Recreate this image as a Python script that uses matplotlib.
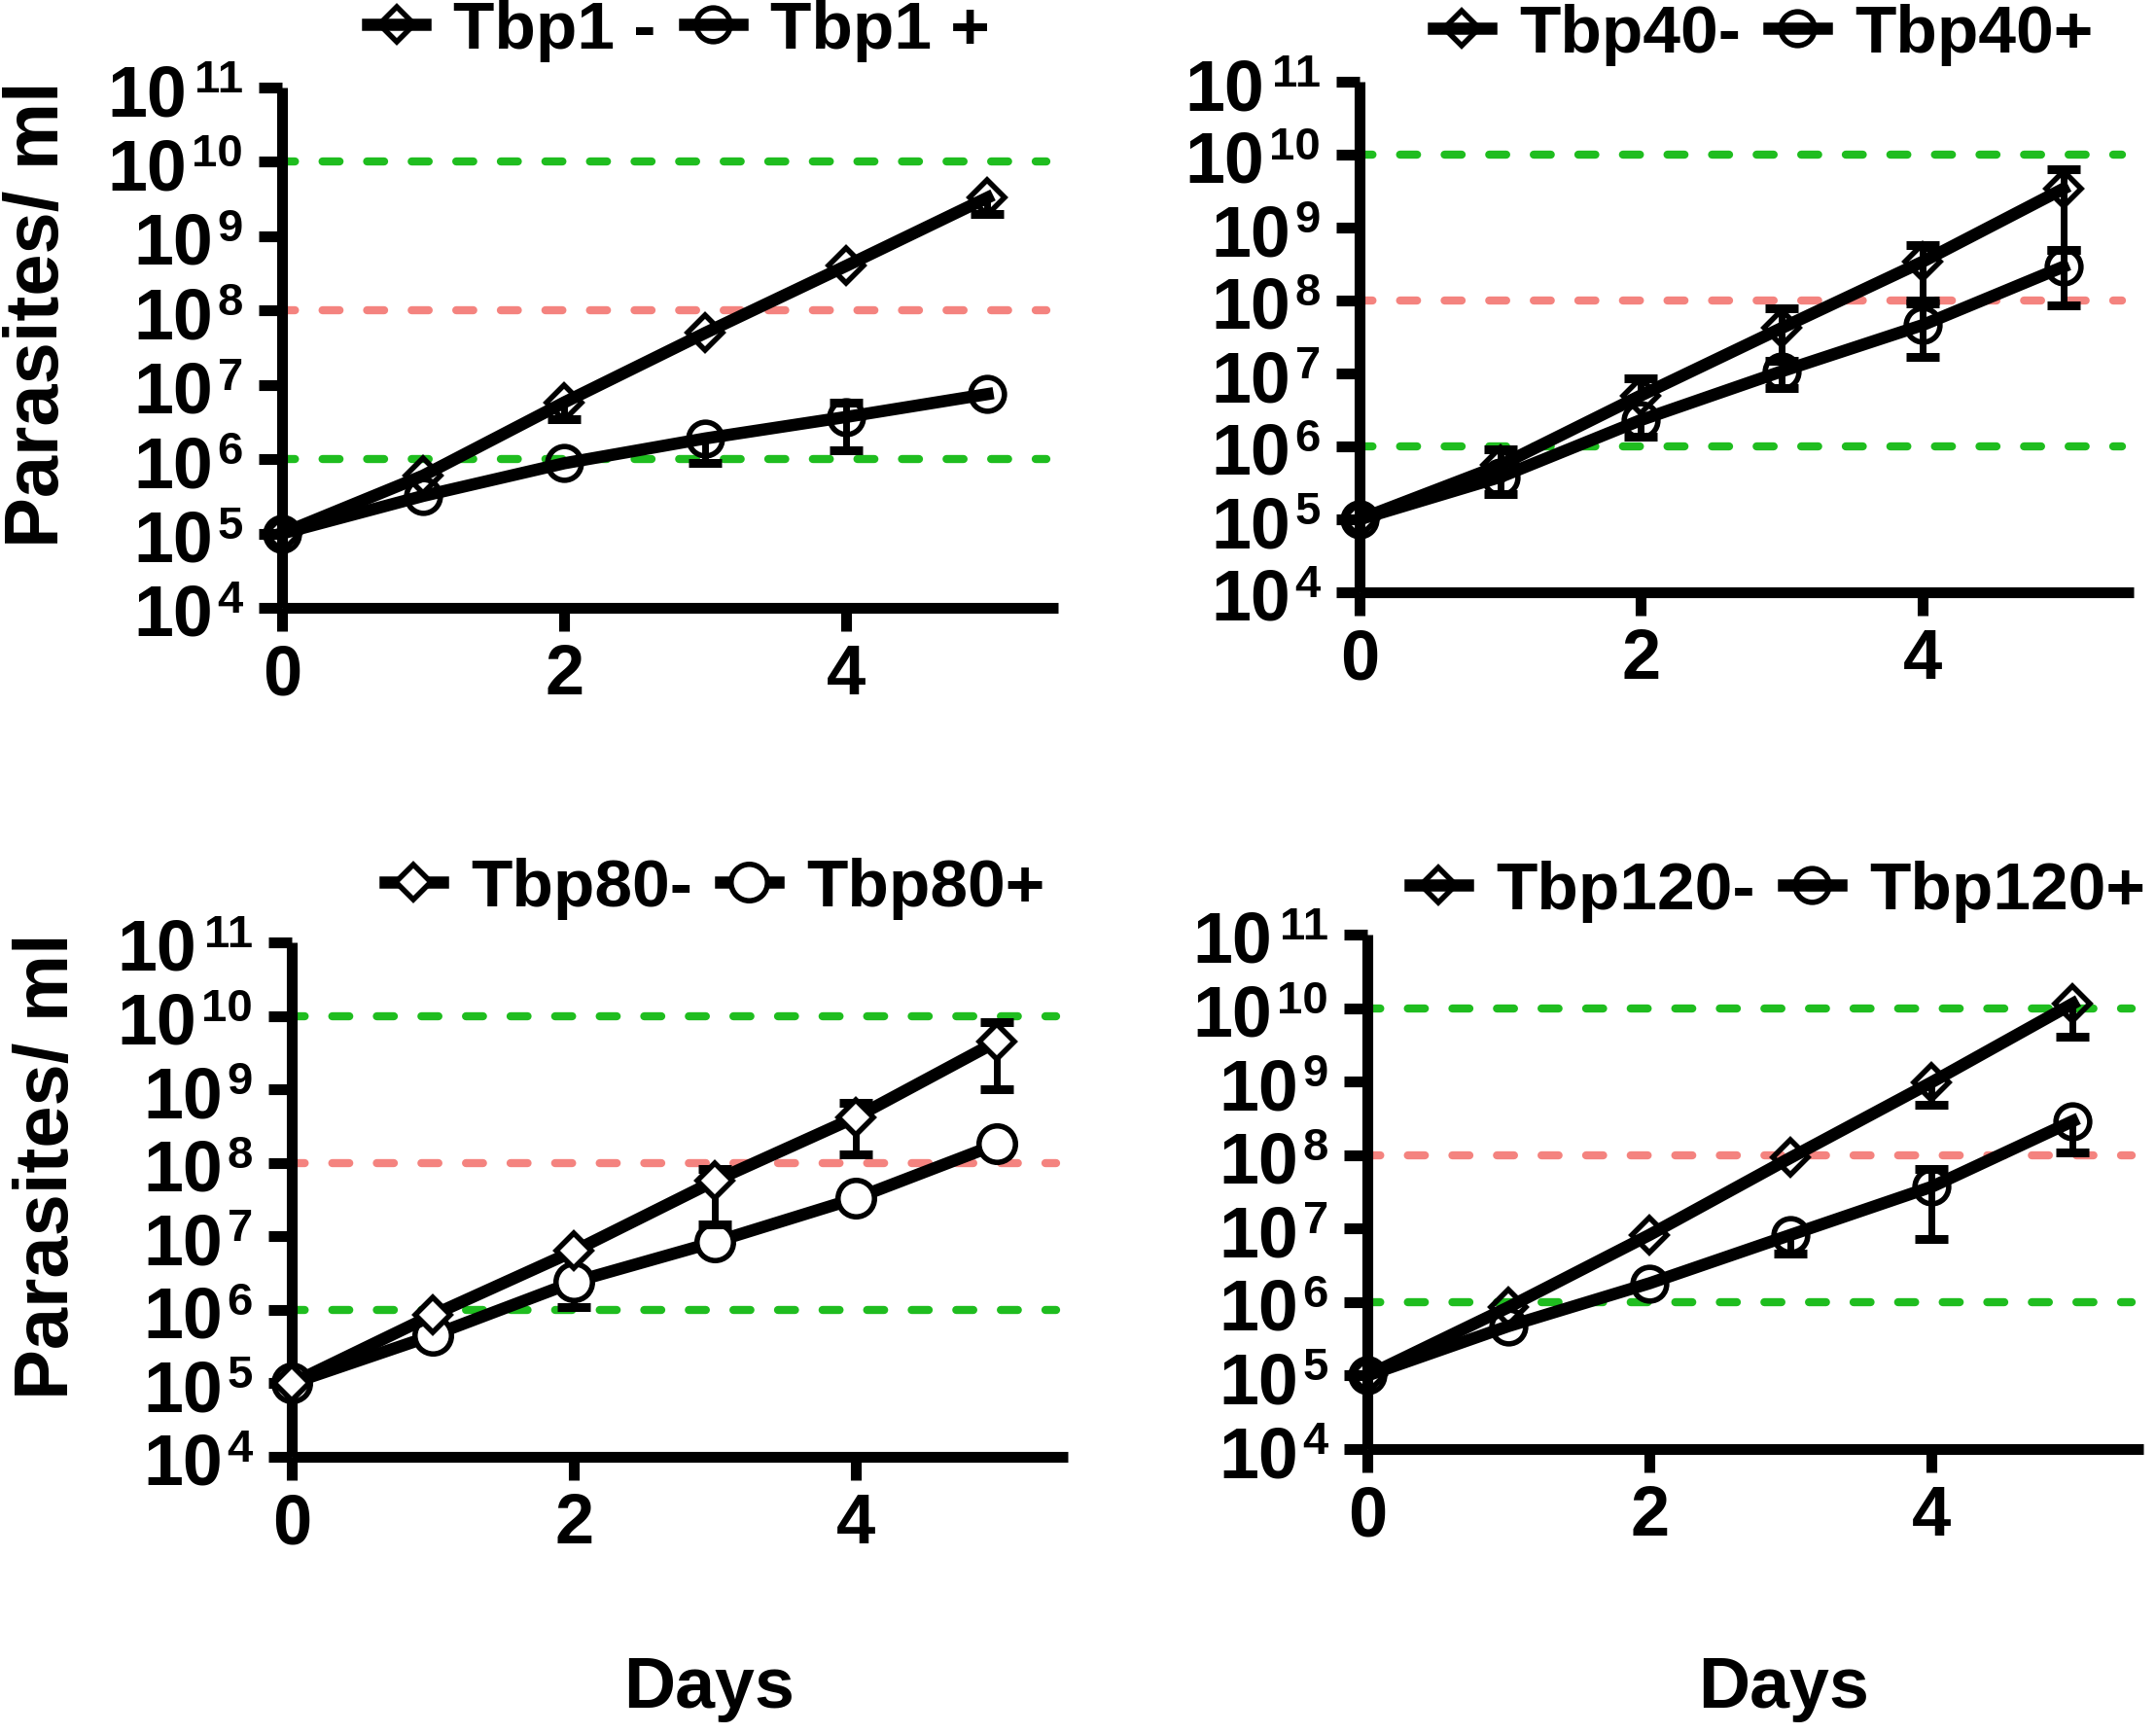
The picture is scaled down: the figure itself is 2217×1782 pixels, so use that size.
import numpy as np
import matplotlib
matplotlib.use("Agg")
import matplotlib.pyplot as plt
from matplotlib.ticker import FixedLocator, NullLocator
from matplotlib.transforms import ScaledTranslation

plt.rcParams['font.family'] = ['Liberation Sans', 'DejaVu Sans']
plt.rcParams['font.weight'] = 'bold'

nan = np.nan
days = [0, 1, 2, 3, 4, 5]

# ---- Panel A: Tbp1 ----
tbp1_minus = [1e5, 6.0e5, 5.8e6, 5.0e7, 4.0e8, 3.3e9]
tbp1_minus_low = [nan, nan, 3.5e6, nan, nan, 2.0e9]
tbp1_minus_high = [nan, nan, nan, nan, nan, nan]
tbp1_plus = [1e5, 3.2e5, 8.8e5, 1.9e6, 3.7e6, 7.5e6]
tbp1_plus_low = [nan, nan, nan, 9.0e5, 1.3e6, nan]
tbp1_plus_high = [nan, nan, nan, nan, 5.8e6, nan]

# ---- Panel B: Tbp40 ----
tbp40_minus = [1e5, 5.5e5, 5.0e6, 4.2e7, 3.4e8, 3.4e9]
tbp40_minus_low = [nan, nan, nan, 1.5e7, 1.0e8, 5.0e8]
tbp40_minus_high = [nan, 9.0e5, 8.5e6, 7.8e7, 5.8e8, 6.3e9]
tbp40_plus = [1e5, 3.8e5, 2.3e6, 1.07e7, 4.6e7, 2.9e8]
tbp40_plus_low = [nan, 2.2e5, 1.35e6, 6.3e6, 1.7e7, 8.5e7]
tbp40_plus_high = [nan, nan, nan, nan, 9.0e7, 5.0e8]

# ---- Panel C: Tbp80 ----
tbp80_minus = [1e5, 8.5e5, 6.3e6, 5.7e7, 4.2e8, 4.5e9]
tbp80_minus_low = [nan, nan, nan, 1.45e7, 1.3e8, 1.0e9]
tbp80_minus_high = [nan, nan, nan, 8.2e7, 6.5e8, 8.1e9]
tbp80_plus = [1e5, 4.5e5, 2.4e6, 8.4e6, 3.3e7, 1.8e8]
tbp80_plus_low = [nan, nan, 1.1e6, nan, nan, nan]
tbp80_plus_high = [nan, nan, nan, nan, nan, nan]

# ---- Panel D: Tbp120 ----
tbp120_minus = [1e5, 8.5e5, 8.2e6, 9.2e7, 9.8e8, 1.15e10]
tbp120_minus_low = [nan, nan, nan, nan, 4.8e8, 4.1e9]
tbp120_minus_high = [nan, nan, nan, nan, nan, nan]
tbp120_plus = [1e5, 4.7e5, 1.8e6, 8.2e6, 3.7e7, 2.9e8]
tbp120_plus_low = [nan, nan, nan, 4.5e6, 7.2e6, 1.1e8]
tbp120_plus_high = [nan, nan, nan, nan, 6.5e7, nan]

thresholds = [1e6, 1e8, 1e10]
threshold_colors = ['#1fbd1f', '#f4837f', '#1fbd1f']

ytick_exps = [4, 5, 6, 7, 8, 9, 10, 11]
xticks = [0, 2, 4]

panels = [
    dict(rect=[290, 91, 1088, 626], labels=['Tbp1 -', 'Tbp1 +'],
         minus=(tbp1_minus, tbp1_minus_low, tbp1_minus_high),
         plus=(tbp1_plus, tbp1_plus_low, tbp1_plus_high),
         fill='none', leg=(698, 32), ylabel=(40, 323), xlabel=None),
    dict(rect=[1398, 85, 2194, 610], labels=['Tbp40-', 'Tbp40+'],
         minus=(tbp40_minus, tbp40_minus_low, tbp40_minus_high),
         plus=(tbp40_plus, tbp40_plus_low, tbp40_plus_high),
         fill='none', leg=(1813, 36), ylabel=None, xlabel=None),
    dict(rect=[300, 970, 1098, 1499], labels=['Tbp80-', 'Tbp80+'],
         minus=(tbp80_minus, tbp80_minus_low, tbp80_minus_high),
         plus=(tbp80_plus, tbp80_plus_low, tbp80_plus_high),
         fill='white', leg=(735, 914), ylabel=(50, 1199), xlabel=(729, 1737)),
    dict(rect=[1406, 962, 2204, 1491], labels=['Tbp120-', 'Tbp120+'],
         minus=(tbp120_minus, tbp120_minus_low, tbp120_minus_high),
         plus=(tbp120_plus, tbp120_plus_low, tbp120_plus_high),
         fill='none', leg=(1828, 917), ylabel=None, xlabel=(1834, 1737)),
]

W, H = 2217, 1783
DPI = 100
fig = plt.figure(figsize=(W / DPI, H / DPI), dpi=DPI)

FS = 52          # x tick labels
BASE_FS = 53     # "10" of y tick labels
EXP_FS = 34      # exponent of y tick labels
LFS = 50
LW = 9
SPINE = 8


def px(v):
    return v / DPI


def draw_series(ax, vals, low, high, marker, ms, fill, z):
    x = np.array(days, dtype=float)
    v = np.array(vals, dtype=float)
    lo = np.array(low, dtype=float)
    hi = np.array(high, dtype=float)
    for bound in (lo, hi):
        m = ~np.isnan(bound)
        if m.any():
            ax.vlines(x[m], v[m], bound[m], colors='k', linewidth=5, zorder=z - 0.5,
                      clip_on=False)
            ax.plot(x[m], bound[m], linestyle='none', marker='_', markersize=24,
                    markeredgewidth=6.5, color='k', zorder=z - 0.5, clip_on=False)
    line, = ax.plot(x, v, color='k', linewidth=LW, marker=marker, markersize=ms,
                    markerfacecolor=fill, markeredgecolor='k', markeredgewidth=4,
                    zorder=z, clip_on=False)
    return line


def power_labels(ax):
    ytrans = ax.get_yaxis_transform()
    exp_right = -40.0                      # px from the spine centre
    digit_adv = 0.556 * EXP_FS * DPI / 72.0
    gap = 5.0
    for e in ytick_exps:
        s = str(e)
        ax.text(0, 10.0 ** e, s, ha='right', va='baseline', fontsize=EXP_FS,
                fontweight='bold', clip_on=False,
                transform=ytrans + ScaledTranslation(px(exp_right), px(-4), fig.dpi_scale_trans))
        base_right = exp_right - len(s) * digit_adv - gap
        ax.text(0, 10.0 ** e, '10', ha='right', va='baseline', fontsize=BASE_FS,
                fontweight='bold', clip_on=False,
                transform=ytrans + ScaledTranslation(px(base_right), px(-28), fig.dpi_scale_trans))


for p in panels:
    x0, y0, x1, y1 = p['rect']
    ax = fig.add_axes([x0 / W, 1 - y1 / H, (x1 - x0) / W, (y1 - y0) / H])
    ax.set_yscale('log')
    ax.set_ylim(1e4, 1e11)
    ax.set_xlim(0, 5.5)
    for t, c in zip(thresholds, threshold_colors):
        ax.axhline(t, xmin=0.0, xmax=5.42 / 5.5, color=c, linewidth=6,
                   linestyle=(0.5, (2.1, 3.4)), dash_capstyle='round', zorder=1)
    fill = p['fill']
    ms_c = 27 if fill == 'white' else 25
    lm = draw_series(ax, *p['minus'], marker='D', ms=18, fill=fill, z=4)
    lp = draw_series(ax, *p['plus'], marker='o', ms=ms_c, fill=fill, z=3)

    ax.yaxis.set_major_locator(FixedLocator([10.0 ** e for e in ytick_exps]))
    ax.yaxis.set_minor_locator(NullLocator())
    ax.tick_params(axis='y', labelleft=False)
    power_labels(ax)
    ax.set_xticks(xticks)
    ax.set_xticklabels([str(t) for t in xticks])
    for s in ('top', 'right'):
        ax.spines[s].set_visible(False)
    for s in ('left', 'bottom'):
        ax.spines[s].set_linewidth(SPINE)
        ax.spines[s].set_capstyle('butt')
    ax.tick_params(axis='both', direction='out', length=17.5, width=SPINE, color='k')
    ax.tick_params(axis='x', pad=8, labelsize=FS)
    for lab in ax.get_xticklabels():
        lab.set_fontweight('bold')

    lx, ly = p['leg']
    fig.legend([lm, lp], p['labels'], loc='center', bbox_to_anchor=(lx / W, 1 - ly / H),
               ncol=2, frameon=False, handlelength=0.85,
               handletextpad=0.42, columnspacing=0.42, borderpad=0, borderaxespad=0,
               prop=dict(weight='bold', size=LFS))

    if p['ylabel']:
        yx, yy = p['ylabel']
        fig.text(yx / W, 1 - yy / H, 'Parasites/ ml', rotation=90, ha='center',
                 va='center', fontsize=56, fontweight='bold')
    if p['xlabel']:
        xx, xy = p['xlabel']
        fig.text(xx / W, 1 - xy / H, 'Days', ha='center', va='center',
                 fontsize=53, fontweight='bold')

fig.savefig('out.png', dpi=DPI, facecolor='white')
